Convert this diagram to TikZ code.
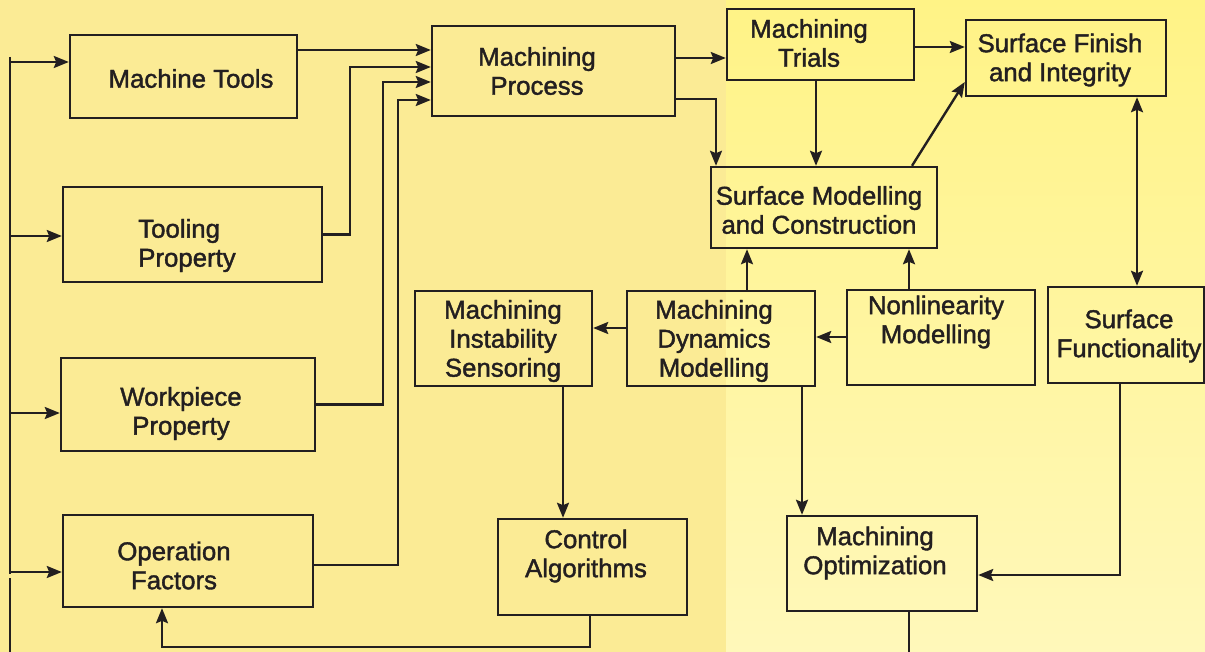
\documentclass[tikz,border=0pt]{standalone}
\usepackage{fontspec}
\setmainfont{Liberation Sans}
\newfontfamily\boxfont{Liberation Sans}[FakeBold=1.5]
\usetikzlibrary{arrows.meta,positioning,calc}

\definecolor{bgleft}{HTML}{FBEB95}
\definecolor{bgtop}{HTML}{FFF386}
\definecolor{bgbot}{HTML}{FFF8BA}
\definecolor{ink}{HTML}{231F20}

\begin{document}
\begin{tikzpicture}[x=0.5pt, y=-0.5pt,
    box/.style={draw=ink, line width=1.2pt, rectangle, inner sep=0pt},
    txt/.style={align=center, inner sep=0pt, text=ink, font=\boxfont\fontsize{12.9}{14.5}\selectfont},
    arr/.style={draw=ink, line width=1.2pt, -{Stealth[length=7.5pt,width=6pt,inset=1.2pt]}},
    arrboth/.style={draw=ink, line width=1.2pt, {Stealth[length=7.5pt,width=6pt,inset=1.2pt]}-{Stealth[length=7.5pt,width=6pt,inset=1.2pt]}},
    wire/.style={draw=ink, line width=1.2pt}]

    % background
    \useasboundingbox (0,0) rectangle (1205,652);
    \fill[bgleft] (0,0) rectangle (726,652);
    \shade[top color=bgtop, bottom color=bgbot] (726,0) rectangle (1205,652);

    % boxes
    \node[box, minimum width=113.5pt, minimum height=41.5pt] (mtools) at (183.5,76.5) {};
    \node[box, minimum width=129.5pt, minimum height=47.5pt] (tooling) at (192.5,234.5) {};
    \node[box, minimum width=127pt, minimum height=46.5pt] (workpc) at (188,404.5) {};
    \node[box, minimum width=125pt, minimum height=46pt] (opfact) at (188,561) {};
    \node[box, minimum width=121.5pt, minimum height=45pt] (mproc) at (553.5,71) {};
    \node[box, minimum width=93.5pt, minimum height=35.5pt] (trials) at (820.5,44.5) {};
    \node[box, minimum width=100pt, minimum height=38pt] (sfin) at (1066,58) {};
    \node[box, minimum width=113pt, minimum height=40.5pt] (smod) at (824,207.5) {};
    \node[box, minimum width=88.5pt, minimum height=47.5pt] (instab) at (503.5,338.5) {};
    \node[box, minimum width=94pt, minimum height=47.5pt] (dyn) at (721,338.5) {};
    \node[box, minimum width=94pt, minimum height=47.5pt] (nonlin) at (941,337.5) {};
    \node[box, minimum width=78pt, minimum height=48pt] (sfunc) at (1126,335) {};
    \node[box, minimum width=94.5pt, minimum height=48pt] (ctrl) at (592.5,567) {};
    \node[box, minimum width=95pt, minimum height=47.5pt] (mopt) at (882,563.5) {};

    % texts
    \node[txt] (mtools-t) at (191,78.5) {Machine Tools};
    \node[txt, align=left] (tooling-t) at (187,245.5) {Tooling\\Property};
    \node[txt] (workpc-t) at (181,413.5) {Workpiece\\Property};
    \node[txt] (opfact-t) at (174,565.5) {Operation\\Factors};
    \node[txt] (mproc-t) at (537,71) {Machining\\Process};
    \node[txt] (trials-t) at (809,43) {Machining\\Trials};
    \node[txt] (sfin-t) at (1060,60) {Surface Finish\\and Integrity};
    \node[txt] (smod-t) at (819,210) {Surface Modelling\\and Construction};
    \node[txt] (instab-t) at (503,341) {Machining\\Instability\\Sensoring};
    \node[txt] (dyn-t) at (714,341) {Machining\\Dynamics\\Modelling};
    \node[txt] (nonlin-t) at (936,322) {Nonlinearity\\Modelling};
    \node[txt] (sfunc-t) at (1129,336) {Surface\\Functionality};
    \node[txt] (ctrl-t) at (586,556) {Control\\Algorithms};
    \node[txt] (mopt-t) at (875,553) {Machining\\Optimization};

    % left feed line
    \coordinate (bustop) at (10,57);
    \coordinate (busend) at (10,652);
    \draw[wire] (bustop) -- (10,574);
    \draw[wire] (10,578) -- (busend);
    \draw[arr] (bustop |- 0,62) -- (mtools.west |- 0,62);
    \draw[arr] (bustop |- 0,236) -- (tooling.west |- 0,236);
    \draw[arr] (bustop |- 0,413) -- (workpc.west |- 0,413);
    \draw[arr] (bustop |- 0,572) -- (opfact.west |- 0,572);

    % inputs into the process
    \draw[arr] (mtools.east |- 0,50) -- (mproc.west |- 0,50);
    \draw[arr] (tooling.east) -| (350,67) -- (mproc.west |- 0,67);
    \draw[arr] (workpc.east) -| (383,82) -- (mproc.west |- 0,82);
    \draw[arr] (opfact.east |- 0,565) -| (398,100) -- (mproc.west |- 0,100);
    \draw[arr] (ctrl.south -| 590,0) -- (590,647) -| (opfact.south -| 162,0);

    % right part
    \draw[arr] (mproc.east |- 0,58) -- (trials.west |- 0,58);
    \draw[arr] (mproc.east |- 0,99) -| (smod.north -| 716,0);
    \draw[arr] (trials.east |- 0,47) -- (sfin.west |- 0,47);
    \draw[arr] (trials.south -| 816,0) -- (smod.north -| 816,0);
    \draw[arr] (smod.north -| 912,0) -- (sfin.west |- 0,82);
    \draw[arrboth] (sfin.south -| 1137,0) -- (sfunc.north -| 1137,0);
    \draw[arr] (nonlin.north -| 909,0) -- (smod.south -| 909,0);
    \draw[arr] (dyn.north -| 747,0) -- (smod.south -| 747,0);
    \draw[arr] (nonlin.west |- 0,337) -- (dyn.east |- 0,337);
    \draw[arr] (dyn.west |- 0,328) -- (instab.east |- 0,328);
    \draw[arr] (instab.south -| 563,0) -- (ctrl.north -| 563,0);
    \draw[arr] (dyn.south -| 802,0) -- (mopt.north -| 802,0);
    \draw[arr] (sfunc.south -| 1120,0) |- (mopt.east |- 0,575);
    \coordinate (moptend) at (909,652);
    \draw[wire] (mopt.south -| moptend) -- (moptend);
\end{tikzpicture}
\end{document}
